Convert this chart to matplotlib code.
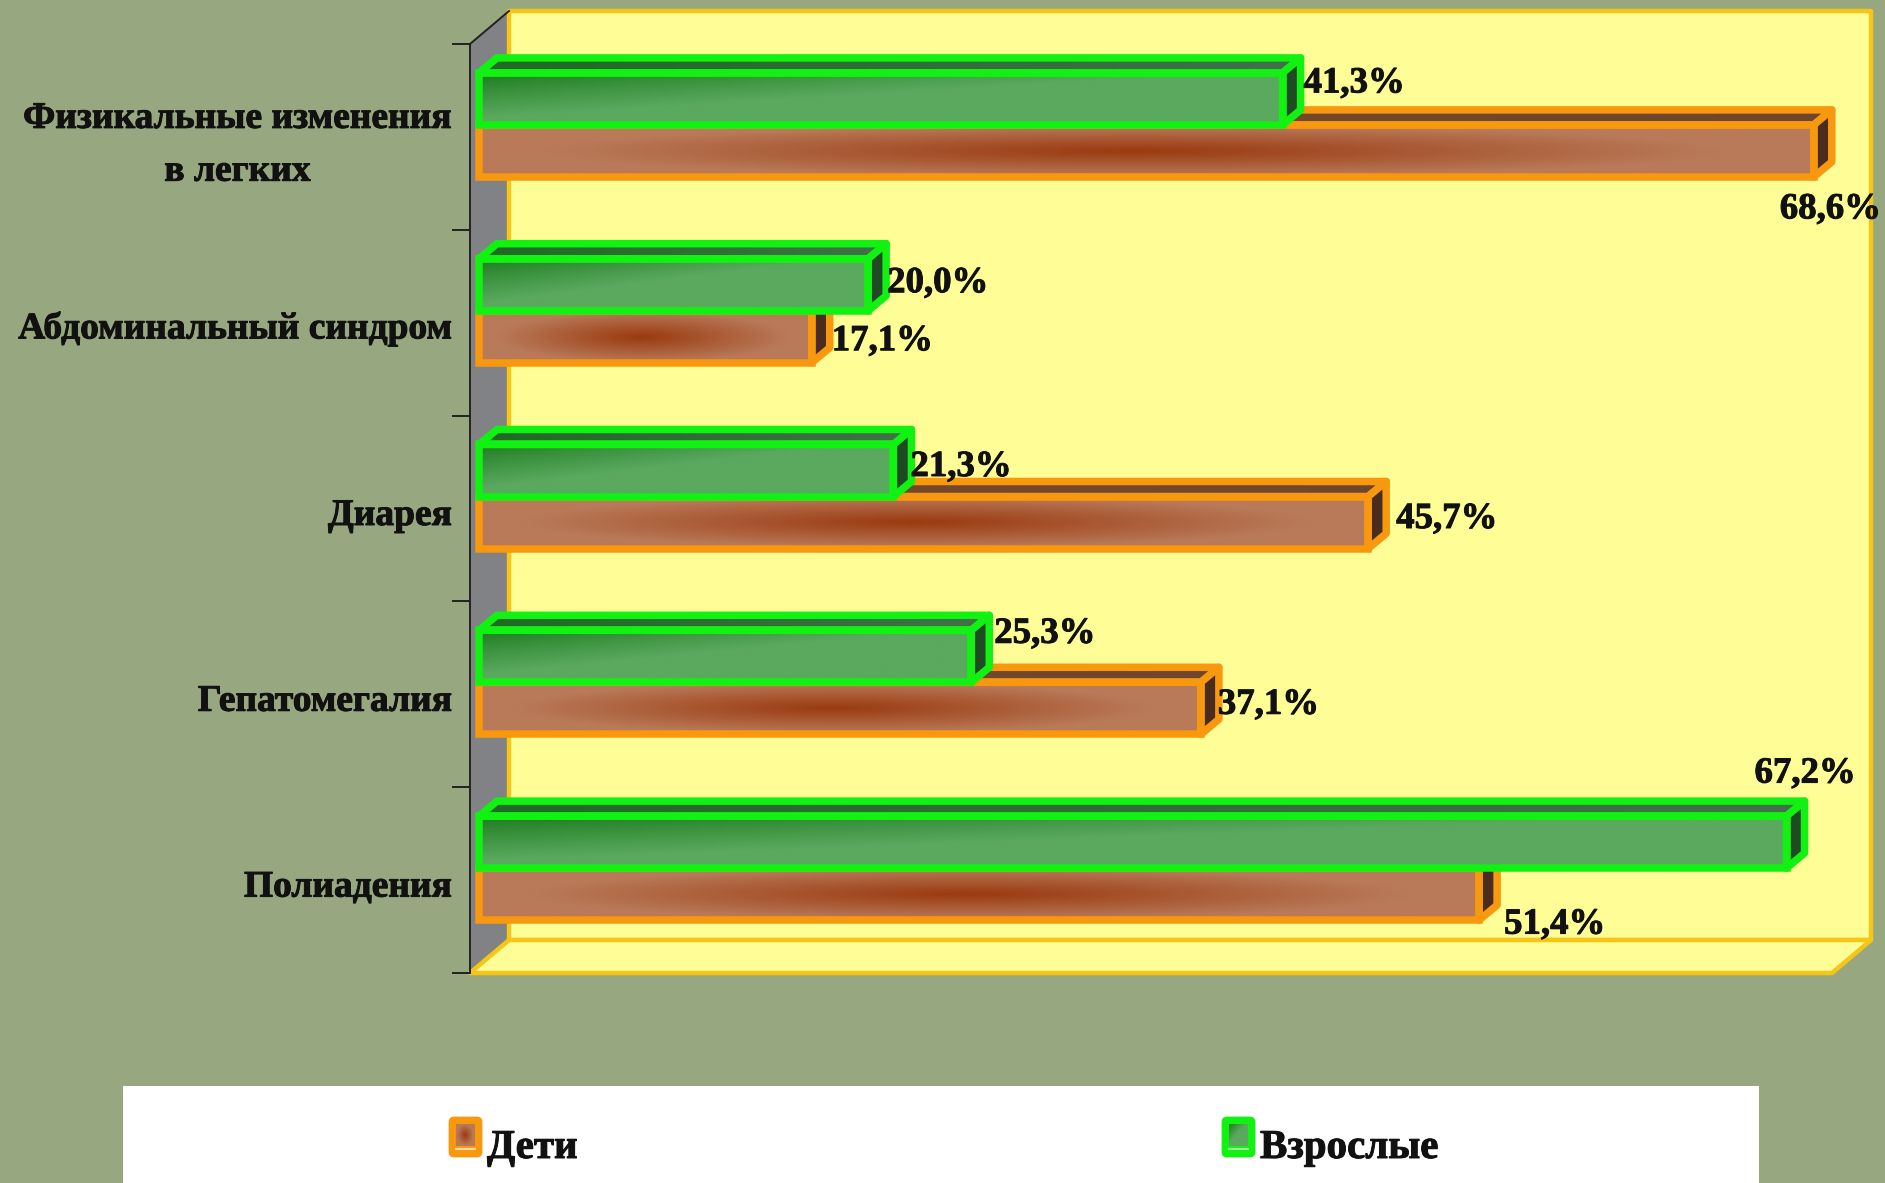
import numpy as np
import matplotlib
matplotlib.use("Agg")
import matplotlib.pyplot as plt
import matplotlib.patheffects as pe
from matplotlib.patches import Polygon, Rectangle, FancyBboxPatch
from matplotlib.transforms import ScaledTranslation

# ---------- data (bottom to top) ----------
categories = ["Полиадения", "Гепатомегалия", "Диарея", "Абдоминальный синдром",
              "Физикальные изменения\nв легких"]
children = [51.4, 37.1, 45.7, 17.1, 68.6]
adults = [67.2, 25.3, 21.3, 20.0, 41.3]
children_labels = ["51,4%", "37,1%", "45,7%", "17,1%", "68,6%"]
adults_labels = ["67,2%", "25,3%", "21,3%", "20,0%", "41,3%"]
series_names = ["Дети", "Взрослые"]

# ---------- style ----------
W, H = 1885, 1183
BG = "#97a880"
WALL = "#fffd96"
WALL_EDGE = "#f5c518"
GREY = "#808285"
FONT = "Liberation Serif"
AX_L, AX_R, AX_T, AX_B = 470, 1832, 44, 973
child_offsets = [(7, -30), (-1, 4), (10, 4), (2, -4), (-52, -58)]
adult_offsets = [(-50, 69), (5, 23), (-1, 4), (1, 2), (3, 16)]
label_shift_px = [-3, -3, -3, -2, 5]
BOLDER = [pe.withStroke(linewidth=0.7, foreground="#111111")]

fig = plt.figure(figsize=(W / 100, H / 100), dpi=100, facecolor=BG)
ax = fig.add_axes([AX_L / W, 1 - AX_B / H, (AX_R - AX_L) / W, (AX_B - AX_T) / H])
ax.set_facecolor("none")
ax.set_xlim(0, 70)
ax.set_ylim(-0.5, 4.5)

px_x = 70 / (AX_R - AX_L)
px_y = 5 / (AX_B - AX_T)
Dx, Dy = 39 * px_x, 33 * px_y          # chart depth
dx, dy = 18 * px_x, 15 * px_y          # bar depth
ox, oy = 9 * px_x, 12 * px_y           # bar offset inside chart
bar_h = 52 * px_y
EDGE_LW = 5.4


def poly(points, fc, ec="none", lw=0, z=1):
    p = Polygon(points, closed=True, facecolor=fc, edgecolor=ec, linewidth=lw,
                zorder=z, clip_on=False, joinstyle="round")
    ax.add_patch(p)
    return p


# walls
y0, y1 = -0.5, 4.5
poly([(0, y0), (0, y1), (Dx, y1 + Dy), (Dx, y0 + Dy)], GREY, z=1)
poly([(Dx, y0 + Dy), (Dx, y1 + Dy), (70 + Dx, y1 + Dy), (70 + Dx, y0 + Dy)],
     WALL, WALL_EDGE, 3.2, z=1)
poly([(0, y0), (70, y0), (70 + Dx, y0 + Dy), (Dx, y0 + Dy)], WALL, WALL_EDGE, 3.2, z=1.2)
ax.plot([0, Dx], [y1, y1 + Dy], color="#222222", lw=1.4, zorder=1.3, clip_on=False)

# axis
for s in ["top", "right", "bottom"]:
    ax.spines[s].set_visible(False)
ax.spines["left"].set_color("#222222")
ax.spines["left"].set_linewidth(1.4)
ax.xaxis.set_visible(False)
ax.set_yticks(np.arange(-0.5, 5, 1))
ax.set_yticklabels([])
ax.tick_params(axis="y", which="major", length=13, width=1.4, color="#222222")
ax.set_yticks(np.arange(5), minor=True)
ax.set_yticklabels(categories, minor=True, fontfamily=FONT, fontweight="bold",
                   fontsize=27, multialignment="center", color="#111111",
                   linespacing=1.66)
ax.tick_params(axis="y", which="minor", length=0, pad=13)
for lab, s in zip(ax.get_yticklabels(minor=True), label_shift_px):
    shift = ScaledTranslation(0, s / 100, fig.dpi_scale_trans)
    lab.set_transform(lab.get_transform() + shift)
    lab.set_path_effects(BOLDER)


def lerp(c0, c1, t):
    c0 = np.array(matplotlib.colors.to_rgb(c0))
    c1 = np.array(matplotlib.colors.to_rgb(c1))
    return c0[None, None, :] * (1 - t[..., None]) + c1[None, None, :] * t[..., None]


def green_grad(n=200, m=40):
    u, v = np.meshgrid(np.linspace(0, 1, n), np.linspace(0, 1, m))
    t = np.clip(v * 1.15 + u * 1.1, 0, 1) ** 0.9
    return lerp("#1d7c1e", "#5aa95f", t)


def orange_grad(n=200, m=40):
    u, v = np.meshgrid(np.linspace(0, 1, n), np.linspace(0, 1, m))
    t = np.clip(np.sqrt(((u - 0.49) / 0.44) ** 2 + ((v - 0.5) / 0.5) ** 2), 0, 1)
    return lerp("#9a3a10", "#b97a59", t ** 1.0)


def top_grad(c0, c1):
    u = np.linspace(0, 1, 100)[None, :]
    return lerp(c0, c1, u)


def draw_bars(values, ys, grad, edge, side, top0, top1, z):
    ax.barh(ys, values, left=ox, height=bar_h, align="edge", color="none",
            edgecolor=edge, linewidth=EDGE_LW, zorder=z + 0.4, clip_on=False)
    for v, b in zip(values, ys):
        x0, x1 = ox, ox + v
        y_a, y_b = b, b + bar_h
        im = ax.imshow(grad(), extent=(x0, x1, y_a, y_b), origin="upper", aspect="auto",
                       zorder=z, interpolation="bilinear")
        im.set_clip_on(False)
        # top face
        pts = [(x0, y_b), (x1, y_b), (x1 + dx, y_b + dy), (x0 + dx, y_b + dy)]
        imt = ax.imshow(top_grad(top0, top1), extent=(x0, x1 + dx, y_b, y_b + dy),
                        aspect="auto", zorder=z, interpolation="bilinear")
        pt = poly(pts, "none", edge, EDGE_LW, z=z + 0.2)
        imt.set_clip_path(pt)
        # side face
        poly([(x1, y_a), (x1 + dx, y_a + dy), (x1 + dx, y_b + dy), (x1, y_b)],
             side, edge, EDGE_LW, z=z + 0.2)


ypos = np.arange(5)
draw_bars(children, ypos + oy - bar_h, orange_grad, "#f7980f", "#4a2c1e", "#7a4a28", "#6e4630", 3)
draw_bars(adults, ypos + oy, green_grad, "#12f212", "#1e4a24", "#1f6a24", "#43704a", 5)

# data labels
txt = dict(fontfamily=FONT, fontweight="bold", fontsize=26.5, color="#111111",
           va="center", ha="left", zorder=10, annotation_clip=False,
           path_effects=BOLDER)
for i in range(5):
    ax.annotate(children_labels[i], (ox + children[i] + dx, ypos[i] + oy - bar_h / 2),
                xytext=child_offsets[i], textcoords="offset pixels", **txt)
    ax.annotate(adults_labels[i], (ox + adults[i] + dx, ypos[i] + oy + bar_h / 2),
                xytext=adult_offsets[i], textcoords="offset pixels", **txt)
ax.set_xlim(0, 70)
ax.set_ylim(-0.5, 4.5)

# legend (overlay in pixel coordinates)
lg = fig.add_axes([0, 0, 1, 1], facecolor="none")
lg.set_xlim(0, W)
lg.set_ylim(H, 0)
lg.axis("off")
lg.add_patch(Rectangle((123, 1086), 1636, 100, facecolor="white", edgecolor="none"))
swatches = [(449, "#f7980f", orange_grad(30, 30), "#f9d9a0"),
            (1222, "#12f212", green_grad(30, 30), "#a0f8a0")]
text_x = [487, 1260]
for (sx, edge, g, line), tx, name in zip(swatches, text_x, series_names):
    lg.add_patch(FancyBboxPatch((sx + 1, 1118), 31, 38, boxstyle="round,pad=0,rounding_size=4",
                                facecolor=edge, edgecolor=edge, linewidth=2))
    lg.imshow(g, extent=(sx + 7, sx + 26, 1146, 1124), aspect="auto", zorder=3, origin="upper")
    lg.plot([sx + 7, sx + 26], [1149, 1149], color=line, lw=1.5, zorder=3)
    lg.text(tx, 1158, name, fontfamily=FONT, fontweight="bold", fontsize=29.5,
            color="#111111", va="baseline", ha="left", path_effects=BOLDER)
lg.set_xlim(0, W)
lg.set_ylim(H, 0)

fig.savefig("out.png", dpi=100, facecolor=BG)
